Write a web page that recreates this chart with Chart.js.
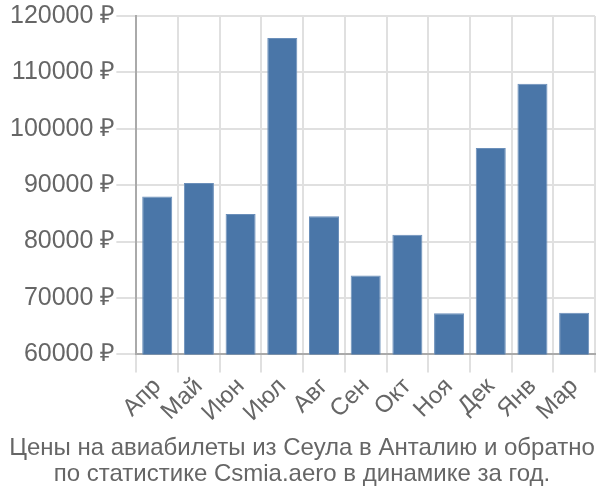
<!DOCTYPE html>
<html><head><meta charset="utf-8">
<script src="https://cdn.jsdelivr.net/npm/chart.js@4"></script>
<style>html,body{margin:0;padding:0;background:#fff}#w{width:600px;height:500px}</style>
</head><body><div id="w"><canvas id="c"></canvas></div>
<script>
const categories = ["Апр","Май","Июн","Июл","Авг","Сен","Окт","Ноя","Дек","Янв","Мар"];
const prices = [88000, 90400, 84900, 116100, 84500, 74000, 81200, 67300, 96600, 108000, 67400];
const titleLines = ["Цены на авиабилеты из Сеула в Анталию и обратно","по статистике Csmia.aero в динамике за год."];
Chart.defaults.font.family = "'Liberation Sans', Arial, sans-serif";
new Chart(document.getElementById('c'), {
  type: 'bar',
  data: { labels: categories, datasets: [{ data: prices, backgroundColor: '#4a76a8', borderColor: '#6b8fba', borderWidth: 1, barPercentage: 0.72, categoryPercentage: 1 }] },
  options: {
    responsive: true, maintainAspectRatio: false, animation: false,
    layout: { padding: { left: 9, right: 5, top: 4 } },
    plugins: {
      legend: { display: false },
      tooltip: { enabled: false },
      title: { display: true, position: 'bottom', text: titleLines, color: '#666', font: { size: 24, weight: 'normal', lineHeight: 1.1 }, padding: { top: 8, bottom: 12 } }
    },
    scales: {
      x: { grid: { color: '#e0e0e0', lineWidth: 2, offset: true, tickLength: 18 }, border: { color: '#aaa', width: 2 },
           ticks: { color: '#666', font: { size: 24 }, maxRotation: 45, minRotation: 45, padding: 0, autoSkip: false } },
      y: { min: 60000, max: 120000, grid: { color: '#e0e0e0', lineWidth: 2, tickLength: 20 }, border: { color: '#aaa', width: 2 },
           ticks: { stepSize: 10000, color: '#666', font: { size: 25 }, padding: 1, callback: v => v + ' ₽' } }
    }
  }
});
</script></body></html>
